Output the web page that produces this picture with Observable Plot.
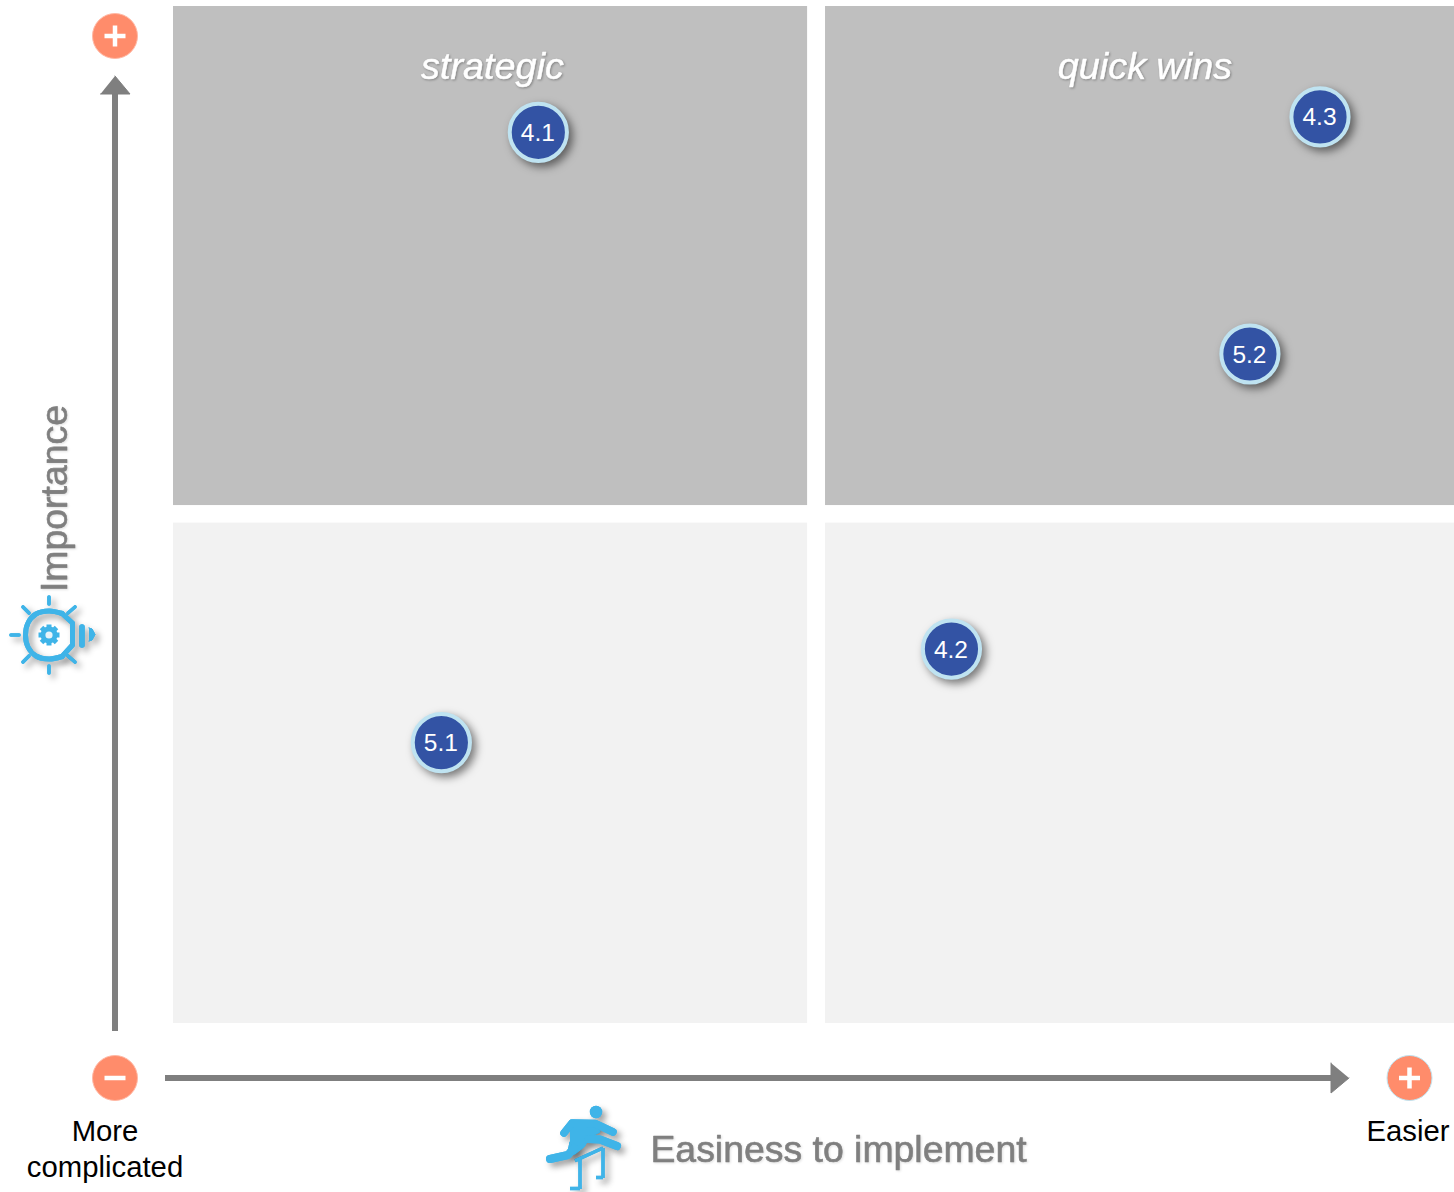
<!DOCTYPE html>
<html>
<head>
<meta charset="utf-8">
<style>
  html, body { margin: 0; padding: 0; background: #fff; }
  svg { display: block; }
</style>
<script src="https://cdn.jsdelivr.net/npm/d3@7"></script>
<script src="https://cdn.jsdelivr.net/npm/@observablehq/plot@0.6"></script>
</head>
<body>
<script>
// Initiatives on the importance / easiness matrix (both scored 0 to 100).
const initiatives = ["4.1", "4.3", "5.2", "4.2", "5.1"];
const easiness = [28.48, 89.5, 84.03, 60.73, 20.91];
const importance = [87.63, 89.14, 65.83, 36.82, 27.62];

// Quadrants: easiness and importance bounds, with their fill.
const quadrantEasiness = [[0, 49.5], [50.9, 100], [0, 49.5], [50.9, 100]];
const quadrantImportance = [[50.93, 100], [50.93, 100], [0, 49.2], [0, 49.2]];
const quadrantFill = ["#bfbfbf", "#bfbfbf", "#f2f2f2", "#f2f2f2"];
const quadrantNames = ["strategic", "quick wins"];

const W = 1454, H = 1192;
// Page pixels per score unit, and where score 0 sits on the page.
const ux = (px) => (px - 173) / 12.81;
const uy = (py) => (1023 - py) / 10.17;
// Plot nudges strokes and text by half a pixel; these page helpers take that back.
const nx = (px) => ux(px - 0.5);
const ny = (py) => uy(py - 0.5);
const path = (pts) => pts.map(([x, y]) => ({x: nx(x), y: ny(y)}));

const GREY = "#7f7f7f", ORANGE = "#ff8c6b", BLUE = "#3fb4e8";
const SOFT = "drop-shadow(4px 4px 3px rgba(0,0,0,.38))";
const WHITE_TEXT_SOFT = "drop-shadow(1.5px 1.5px 1px rgba(0,0,0,.3))";
const GREY_TEXT_SOFT = "drop-shadow(1.5px 1.5px 1px rgba(0,0,0,.12))";
const FONT = "Liberation Sans, Arial, sans-serif";

const stroke = (pts, color, width, extra = {}) =>
  Plot.line(path(pts), {x: "x", y: "y", stroke: color, strokeWidth: width, strokeLinecap: "round", strokeLinejoin: "round", ...extra});
const fill = (pts, color, extra = {}) =>
  Plot.line(path(pts), {x: "x", y: "y", fill: color, stroke: color, strokeWidth: 1, ...extra});
const label = (text, px, py, size, color, extra = {}) =>
  Plot.text([text], {x: nx(px), y: ny(py), text: (d) => d, fontSize: size, fill: color, fontFamily: FONT, lineAnchor: "bottom", ...extra});
const badge = (px, py, sign, ring) => [
  Plot.dot([0], {x: nx(px), y: ny(py), r: 22.5, fill: ORANGE, stroke: ring, strokeWidth: 1}),
  stroke([[px - 10.5, py], [px + 10.5, py]], "#fff", 4.5, {strokeLinecap: "butt"}),
  ...(sign === "+" ? [stroke([[px, py - 10.5], [px, py + 10.5]], "#fff", 4.5, {strokeLinecap: "butt"})] : [])
];

// Light bulb drawn with a small gear inside, pointing right along the axis.
const bulbRays = [
  [[49, 597], [49, 604]], [[49, 666], [49, 673]], [[11, 635], [19, 635]],
  [[23, 607], [29, 613]], [[75, 607], [68, 613]], [[23, 662], [29, 656]], [[75, 662], [68, 656]]
];
const bulbArc = [[62, 613.5], [49, 611], [36, 614], [28, 623], [25.5, 635], [28, 647], [36, 656], [49, 659], [62, 656.5]];
const bulbNeck = [[62, 613.5], [72.5, 623], [72.5, 645], [62, 656.5]];
const gearTeeth = [[[49, 624.5], [49, 645.5]], [[38.5, 635], [59.5, 635]], [[41.5, 627.5], [56.5, 642.5]], [[56.5, 627.5], [41.5, 642.5]]];

// Runner clearing a hurdle.
const runnerLimbs = [
  {pts: [[564, 1133], [572, 1123], [595, 1123.5], [613, 1132]], w: 7.5},
  {pts: [[588, 1139], [600, 1139.5], [617, 1146]], w: 8},
  {pts: [[550, 1159], [568, 1155], [574, 1148]], w: 8}
];
const runnerBody = [[570, 1121], [596, 1122], [600, 1132], [590, 1137], [584, 1147], [575, 1154], [567, 1156], [570, 1142]];
const hurdleBars = [
  [[575, 1160.7], [603, 1148]], [[580, 1159], [580, 1189]], [[570, 1188.5], [580, 1188.5]],
  [[603, 1148], [603, 1178]], [[596, 1177.5], [603, 1177.5]]
];

// Each icon is built twice: once carrying the shadow, then clean on top,
// so that no part of an icon darkens a neighbouring part.
const bulbMarks = (extra) => [
  Plot.line(bulbRays.flatMap((r, k) => path(r).map((p) => ({...p, k}))).concat(
    path(bulbArc).map((p) => ({...p, k: "arc"})),
    path([[82, 627], [82, 645]]).map((p) => ({...p, k: "base"}))
  ), {
    x: "x", y: "y", z: "k",
    stroke: BLUE,
    strokeWidth: (d) => (d.k === "arc" ? 5 : d.k === "base" ? 5.5 : 3.6),
    strokeLinecap: "round", strokeLinejoin: "round",
    curve: "catmull-rom",
    ...extra
  }),
  stroke(bulbNeck, BLUE, 5, extra),
  fill([[89, 628], [92, 629], [95, 634.5], [92, 640], [89, 641]], BLUE, extra)
];
const runnerMarks = (extra) => [
  Plot.dot([0], {x: nx(596), y: ny(1112), r: 6.2, fill: BLUE, ...extra}),
  ...hurdleBars.map((b) => stroke(b, BLUE, 3.4, {strokeLinecap: "butt", ...extra})),
  fill(runnerBody, BLUE, extra),
  ...runnerLimbs.map((l) => stroke(l.pts, BLUE, l.w, extra))
];

const chart = Plot.plot({
  width: W,
  height: H,
  margin: 0,
  x: {domain: [ux(0), ux(W)], range: [0, W], axis: null},
  y: {domain: [uy(0), uy(H)], range: [0, H], axis: null},
  marks: [
    // Quadrants
    Plot.rect(quadrantFill, {
      x1: (_, i) => quadrantEasiness[i][0],
      x2: (_, i) => quadrantEasiness[i][1],
      y1: (_, i) => quadrantImportance[i][0],
      y2: (_, i) => quadrantImportance[i][1],
      fill: (d) => d
    }),
    label(quadrantNames[0], 492.5, 78.5, 37.8, "#fff", {fontStyle: "italic", stroke: "#fff", strokeWidth: 0.5, imageFilter: WHITE_TEXT_SOFT}),
    label(quadrantNames[1], 1145, 78.5, 37.8, "#fff", {fontStyle: "italic", stroke: "#fff", strokeWidth: 0.5, imageFilter: WHITE_TEXT_SOFT}),

    // Importance axis
    stroke([[115, 1031], [115, 92]], GREY, 6, {strokeLinecap: "butt"}),
    fill([[100.5, 94], [130, 94], [115, 76]], GREY),
    ...badge(115, 36, "+", "#ffb9a5"),
    ...badge(115, 1078, "-", "#ffb9a5"),

    // Easiness axis
    stroke([[165, 1078], [1333, 1078]], GREY, 6, {strokeLinecap: "butt"}),
    fill([[1331, 1063], [1331, 1093], [1349, 1078]], GREY),
    ...badge(1409.5, 1078, "+", "#bfe3f0"),

    // Axis captions
    label("Importance", 67, 498.5, 37.4, GREY, {rotate: -90, stroke: GREY, strokeWidth: 0.6, imageFilter: GREY_TEXT_SOFT}),
    label("Easiness to implement", 838.5, 1162, 37.4, GREY, {stroke: GREY, strokeWidth: 0.6, imageFilter: GREY_TEXT_SOFT}),
    label("More", 105, 1141, 29.3, "#000"),
    label("complicated", 105, 1177, 29.3, "#000"),
    label("Easier", 1408, 1141, 29.3, "#000"),

    // Bulb icon
    ...bulbMarks({imageFilter: SOFT}),
    ...bulbMarks({}),
    ...gearTeeth.map((t) => stroke(t, BLUE, 5, {strokeLinecap: "butt"})),
    Plot.dot([0], {x: nx(49), y: ny(635), r: 8.5, fill: BLUE}),
    Plot.dot([0], {x: nx(49), y: ny(635), r: 3.6, fill: "#e8f4fa"}),

    // Runner icon
    ...runnerMarks({imageFilter: SOFT}),
    ...runnerMarks({}),

    // Initiative markers
    Plot.dot(initiatives, {
      x: (_, i) => easiness[i],
      y: (_, i) => importance[i],
      r: 28.6,
      fill: "#3353a4",
      stroke: "#bfe3f1",
      strokeWidth: 4,
      imageFilter: "drop-shadow(4px 4px 4px rgba(0,0,0,.5))"
    }),
    Plot.text(initiatives, {
      x: (_, i) => easiness[i],
      y: (_, i) => importance[i],
      text: (d) => d,
      dx: -0.5,
      dy: 0.7,
      fontSize: 24.5,
      fill: "#fff",
      fontFamily: FONT
    })
  ]
});
document.body.appendChild(chart);
</script>
</body>
</html>
